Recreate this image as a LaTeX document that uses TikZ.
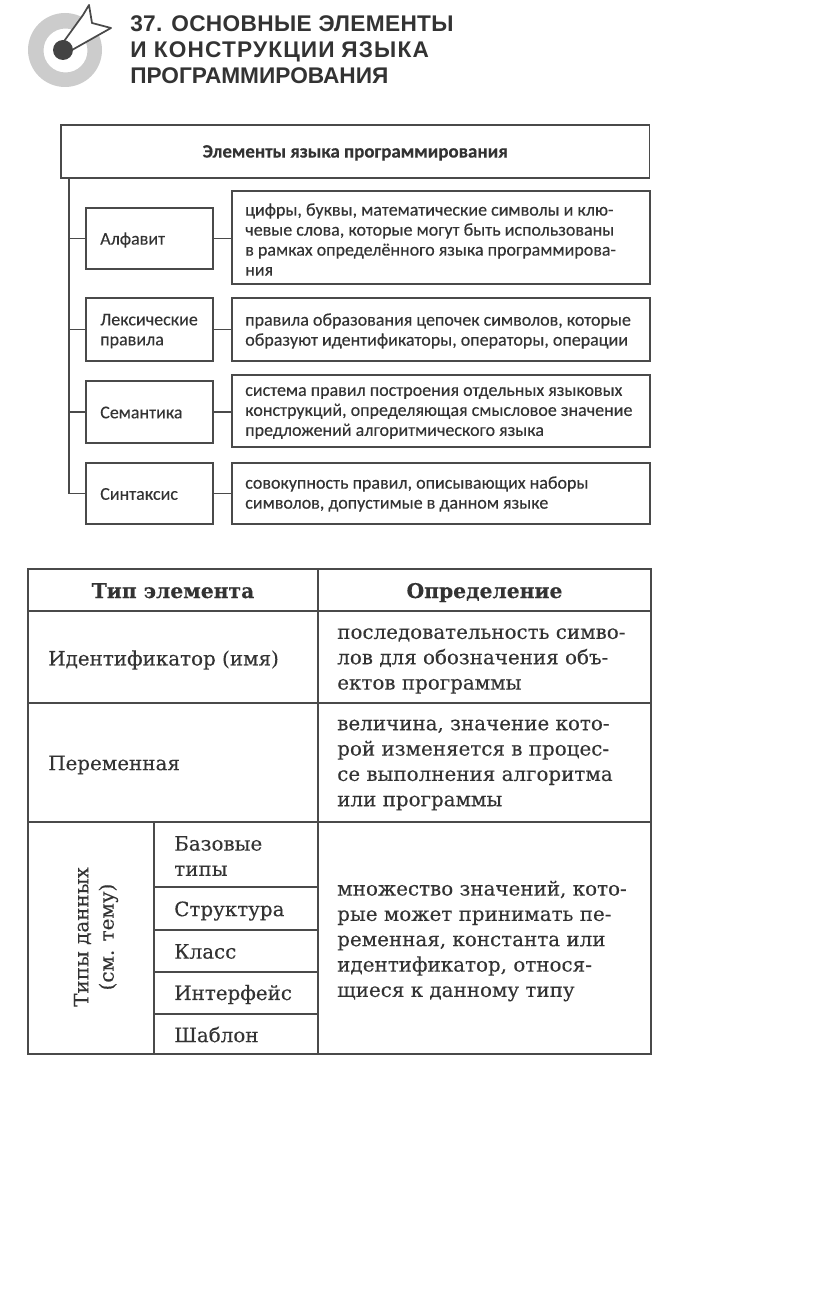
\documentclass[tikz,border=0pt]{standalone}
\usepackage{fontspec}
\setmainfont{Carlito}
\newfontfamily\headf{Liberation Sans}
\newfontfamily\diagf{Carlito}[FakeBold=0.25]
\newfontfamily\tabf{DejaVu Serif}[FakeBold=0.25]
\definecolor{ink}{HTML}{333333}
\definecolor{rule}{HTML}{4A4A4A}
\tikzset{
 base/.style={draw=rule,line width=1.2pt,inner sep=0pt,outer sep=0pt,anchor=north west,text=ink},
 lbl/.style={inner sep=0pt,anchor=west,align=left,text=ink},
 dtext/.style={lbl,font=\diagf\fontsize{13.5}{15}\selectfont},
 ttext/.style={lbl,font=\tabf\fontsize{14.9}{19}\selectfont},
 cell/.style={base},
 conn/.style={draw=rule,line width=1.3pt},
}
\begin{document}
\begin{tikzpicture}[x=0.75pt,y=-0.75pt]
\useasboundingbox (0,0) rectangle (816,1298);
% logo
\fill[gray!40,even odd rule] (65,50) circle (37) (65.5,50.5) circle (22);
\draw[draw=rule,line width=1.3pt,fill=white,line join=round] (62,44) -- (83,15) -- (89,5) -- (92,23) -- (111,28) -- (95,37) -- (72,50) -- cycle;
\fill[rule!90!black] (63,50) circle (10);
% heading
\node (head) [lbl,anchor=north west,text=ink,font=\headf\bfseries\fontsize{17}{19.5}\selectfont] at (130,15.5) {{\addfontfeature{LetterSpace=1.5}37. ОСНОВНЫЕ\hspace{0.3em}ЭЛЕМЕНТЫ}\\{\addfontfeature{LetterSpace=5}И КОНСТРУКЦИИ\hspace{0.3em}ЯЗЫКА}\\ПРОГРАММИРОВАНИЯ};
% diagram
\node (top) [base,minimum width=442pt-0.75pt,minimum height=39.75pt] at (61,125) {};
\node (toplbl) [font=\diagf\bfseries\fontsize{14.2}{15}\selectfont,text=ink,inner sep=0pt] at ([yshift=-1pt]top.center) {Элементы языка программирования};
\node (a) [base,minimum width=95.25pt,minimum height=45.75pt] at (86,208) {};
\node (al) [dtext] at (100,240) {Алфавит};
\node (ad) [base,minimum width=313.5pt,minimum height=69.75pt] at (232,191) {};
\node (adl) [dtext] at (245,239.5) {цифры, буквы, математические символы и клю-\\чевые слова, которые могут быть использованы\\в рамках определённого языка программирова-\\ния};
\node (b) [base,minimum width=95.25pt,minimum height=47.25pt] at (86,298) {};
\node (bl) [dtext] at (100,331) {Лексические\\правила};
\node (bd) [base,minimum width=313.5pt,minimum height=47.25pt] at (232,298) {};
\node (bdl) [dtext] at (245,331) {правила образования цепочек символов, которые\\образуют идентификаторы, операторы, операции};
\node (c) [base,minimum width=95.25pt,minimum height=46.5pt] at (86,381) {};
\node (cl) [dtext] at (100,412.5) {Семантика};
\node (cd) [base,minimum width=313.5pt,minimum height=54pt] at (232,375) {};
\node (cdl) [dtext] at (245,413) {система правил построения отдельных языковых\\конструкций, определяющая смысловое значение\\предложений алгоритмического языка};
\node (d) [base,minimum width=95.25pt,minimum height=45.75pt] at (86,463) {};
\node (dl) [dtext] at (100,494) {Синтаксис};
\node (dd) [base,minimum width=313.5pt,minimum height=45.75pt] at (232,463) {};
\node (ddl) [dtext] at (245,494) {совокупность правил, описывающих наборы\\символов, допустимые в данном языке};
\coordinate (trunk) at (69,178);
\draw[conn] (trunk) -- (trunk |- d.west) -- (d.west);
\draw[conn] (trunk |- a.west) -- (a.west);
\draw[conn] (trunk |- b.west) -- (b.west);
\draw[conn] (trunk |- c.west) -- (c.west);
\draw[conn] (a.east) -- (a.east -| ad.west);
\draw[conn] (b.east) -- (b.east -| bd.west);
\draw[conn] (c.east) -- (c.east -| cd.west);
\draw[conn] (d.east) -- (d.east -| dd.west);
% table
\node (h1) [cell,minimum width=217.5pt,minimum height=31.5pt] at (28,569) {};
\node (h2) [cell,minimum width=249.75pt,minimum height=31.5pt] at (318,569) {};
\node (h1l) [font=\tabf\bfseries\fontsize{15.2}{19}\selectfont,text=ink,inner sep=0pt,anchor=base] at ([yshift=-6pt]h1.center) {Тип элемента};
\node (h2l) [font=\tabf\bfseries\fontsize{15.2}{19}\selectfont,text=ink,inner sep=0pt,anchor=base] at ([yshift=-6pt]h2.center) {Определение};
\node (r1) [cell,minimum width=217.5pt,minimum height=69pt] at (28,611) {};
\node (r1d) [cell,minimum width=249.75pt,minimum height=69pt] at (318,611) {};
\node (r1l) [ttext] at (48,660) {Идентификатор (имя)};
\node (r1t) [ttext] at (337,661) {последовательность симво-\\лов для обозначения объ-\\ектов программы};
\node (r2) [cell,minimum width=217.5pt,minimum height=89.25pt] at (28,703) {};
\node (r2d) [cell,minimum width=249.75pt,minimum height=89.25pt] at (318,703) {};
\node (r2l) [ttext] at (48,765) {Переменная};
\node (r2t) [ttext] at (337,765) {величина, значение кото-\\рой изменяется в процес-\\се выполнения алгоритма\\или программы};
\node (r3) [cell,minimum width=94.5pt,minimum height=174pt] at (28,822) {};
\node (r3l) [font=\tabf\fontsize{14.9}{19}\selectfont,text=ink,inner sep=0pt,align=center,rotate=90] at (96,937) {Типы данных\\(см. тему)};
\node (s1) [cell,minimum width=123pt,minimum height=48.75pt] at (154,822) {};
\node (s2) [cell,minimum width=123pt,minimum height=32.25pt] at (154,887) {};
\node (s3) [cell,minimum width=123pt,minimum height=31.5pt] at (154,930) {};
\node (s4) [cell,minimum width=123pt,minimum height=31.5pt] at (154,972) {};
\node (s5) [cell,minimum width=123pt,minimum height=30pt] at (154,1014) {};
\node (s1l) [ttext] at (174,856) {Базовые\\типы};
\node (s2l) [ttext] at (174,911) {Структура};
\node (s3l) [ttext] at (174,951.5) {Класс};
\node (s4l) [ttext] at (174,994.5) {Интерфейс};
\node (s5l) [ttext] at (174,1034.5) {Шаблон};
\node (r3d) [cell,minimum width=249.75pt,minimum height=174pt] at (318,822) {};
\node (r3t) [ttext] at (337,941) {множество значений, кото-\\рые может принимать пе-\\ременная, константа или\\идентификатор, относя-\\щиеся к данному типу};
\end{tikzpicture}
\end{document}
